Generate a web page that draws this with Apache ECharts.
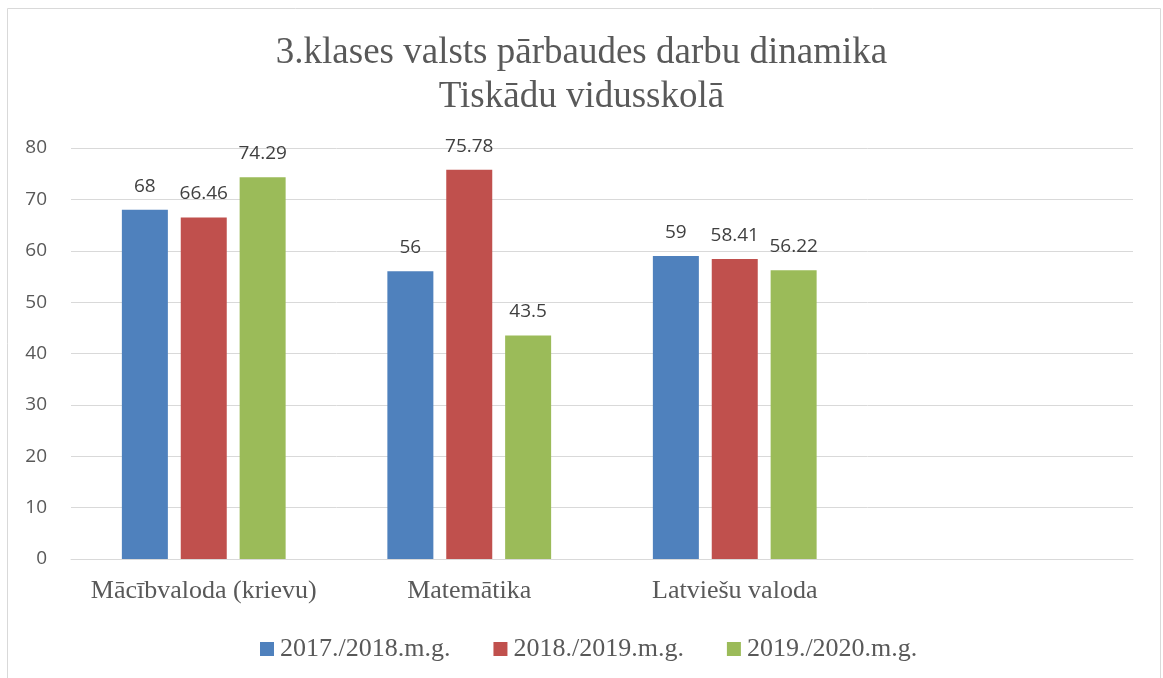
<!DOCTYPE html>
<html>
<head>
<meta charset="utf-8">
<script src="https://cdn.jsdelivr.net/npm/echarts@6/dist/echarts.min.js"></script>
<style>
html, body { margin: 0; padding: 0; background: #fff; }
#chart { width: 1163px; height: 678px; }
</style>
</head>
<body>
<div id="chart"></div>
<script>
// dati no attēla
const categories = ['Mācībvaloda (krievu)', 'Matemātika', 'Latviešu valoda', '']
const seriesNames = ['2017./2018.m.g.', '2018./2019.m.g.', '2019./2020.m.g.']
const values2017 = [68, 56, 59, null]
const values2018 = [66.46, 75.78, 58.41, null]
const values2019 = [74.29, 43.5, 56.22, null]
const yTicks = [0, 10, 20, 30, 40, 50, 60, 70, 80]

const colors = ['#4F81BD', '#C0504D', '#9BBB59']
const serif = '"Liberation Serif", "DejaVu Serif", serif'
const sans = '"Open Sans", "Noto Sans", sans-serif'

let myCharts = echarts.init(document.getElementById('chart'))

function bar(name, data, color) {
    return {
        name: name,
        type: 'bar',
        data: data,
        barWidth: 46,
        barGap: '28%',
        itemStyle: { color: color },
        label: {
            show: true,
            position: 'top',
            distance: 14,
            color: '#404040',
            fontFamily: sans,
            fontSize: 19
        }
    }
}

let option = {
    animation: false,
    title: {
        text: '3.klases valsts pārbaudes darbu dinamika\nTiskādu vidusskolā',
        left: 'center',
        top: 26,
        textStyle: {
            color: '#595959',
            fontFamily: serif,
            fontWeight: 'normal',
            fontSize: 37,
            lineHeight: 44
        }
    },
    graphic: [{
        type: 'rect',
        shape: { x: 7.5, y: 8.5, width: 1153, height: 700 },
        style: { fill: 'none', stroke: '#d9d9d9', lineWidth: 1 },
        silent: true
    }],
    legend: {
        data: seriesNames,
        top: 631,
        left: 255,
        itemWidth: 14,
        itemHeight: 14,
        itemGap: 43,
        icon: 'rect',
        textStyle: {
            color: '#595959',
            fontFamily: serif,
            fontSize: 26,
            lineHeight: 26,
            padding: [0, 0, 0, 1]
        }
    },
    grid: {
        left: 71,
        right: 30,
        top: 148,
        bottom: 119
    },
    xAxis: {
        type: 'category',
        data: categories,
        axisLine: { lineStyle: { color: '#d9d9d9', width: 1 } },
        axisTick: { show: false },
        axisLabel: {
            interval: 0,
            color: '#595959',
            fontFamily: serif,
            fontSize: 26,
            margin: 19
        }
    },
    yAxis: {
        type: 'value',
        min: 0,
        max: 80,
        interval: 10,
        axisLine: { show: false },
        axisTick: { show: false },
        splitLine: { lineStyle: { color: '#d9d9d9', width: 1 } },
        axisLabel: {
            color: '#595959',
            fontFamily: sans,
            fontSize: 19,
            margin: 24,
            formatter: v => yTicks.includes(v) ? String(v) : ''
        }
    },
    series: [
        bar(seriesNames[0], values2017, colors[0]),
        bar(seriesNames[1], values2018, colors[1]),
        bar(seriesNames[2], values2019, colors[2])
    ]
}

myCharts.setOption(option)
</script>
</body>
</html>
